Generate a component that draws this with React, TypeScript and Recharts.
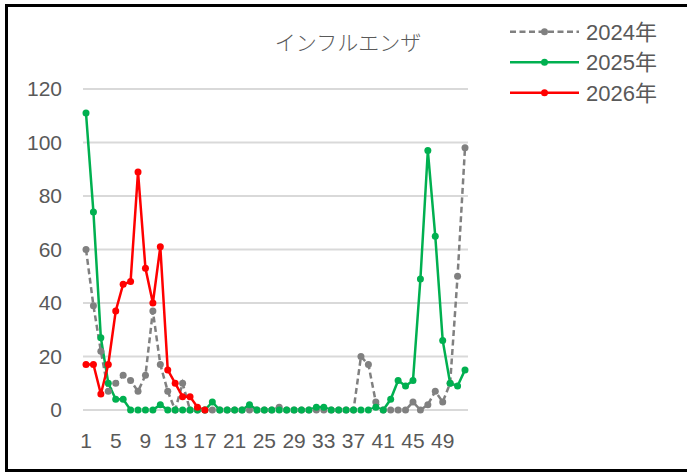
import React from "react";
import { LineChart, Line, XAxis, YAxis, CartesianGrid, Legend } from "recharts";

const weeks: string[] = Array.from({ length: 52 }, (_, i) => String(i + 1));

const values2024: number[] = [
  60, 39, 22, 7, 10, 13, 11, 7, 13, 37,
  17, 7, 0, 10, 0, 0, 0, 0, 0, 0,
  0, 0, 0, 0, 0, 0, 1, 0, 0, 0,
  0, 0, 0, 0, 0, 0, 0, 20, 17, 3,
  0, 0, 0, 0, 3, 0, 2, 7, 3, 10, 50, 98,
];

const values2025: number[] = [
  111, 74, 27, 10, 4, 4, 0, 0, 0, 0,
  2, 0, 0, 0, 0, 0, 0, 3, 0, 0,
  0, 0, 2, 0, 0, 0, 0, 0, 0, 0,
  0, 1, 1, 0, 0, 0, 0, 0, 0, 1,
  0, 4, 11, 9, 11, 49, 97, 65, 26, 10, 9, 15,
];

const values2026: number[] = [17, 17, 6, 17, 37, 47, 48, 89, 53, 40, 61, 15, 10, 5, 5, 1, 0];

const yTicks: number[] = [0, 20, 40, 60, 80, 100, 120];

const seriesNames = ["2024年", "2025年", "2026年"];
const seriesColors = ["#808080", "#00b050", "#ff0000"];

const data = weeks.map((w, i) => ({
  week: w,
  y2024: values2024[i],
  y2025: values2025[i],
  y2026: i < values2026.length ? values2026[i] : null,
}));

const FONT = "'Liberation Sans', 'Noto Sans CJK JP', sans-serif";
const TEXT = "#595959";

const LegendContent = () => (
  <svg width={180} height={110} style={{ display: "block" }}>
    {seriesNames.map((name, i) => {
      const cy = 19.7 + i * 30.5;
      return (
        <g key={name}>
          <line
            x1={5}
            x2={74}
            y1={cy}
            y2={cy}
            stroke={seriesColors[i]}
            strokeWidth={2.5}
            strokeDasharray={i === 0 ? "6 3.5" : undefined}
          />
          <circle cx={39.5} cy={cy} r={3.5} fill={seriesColors[i]} />
          <text
            x={81}
            y={cy}
            dy="0.36em"
            fontSize={22}
            fill={TEXT}
            fontFamily={FONT}
          >
            {name}
          </text>
        </g>
      );
    })}
  </svg>
);

export default function App() {
  return (
    <div style={{ position: "fixed", left: 0, top: 0, width: 687, height: 473, background: "#fff", overflow: "hidden" }}>
      <div
        style={{
          position: "absolute",
          left: 5,
          top: 4,
          width: 720,
          height: 468,
          border: "3px solid #000",
          boxSizing: "border-box",
        }}
      />
      <div
        style={{
          position: "absolute",
          left: 248,
          top: 28,
          width: 200,
          textAlign: "center",
          fontSize: 21,
          lineHeight: "26px",
          color: TEXT,
          fontFamily: "'Noto Sans CJK JP', sans-serif",
          fontWeight: 300,
        }}
      >
        インフルエンザ
      </div>
      <div style={{ position: "absolute", left: 0, top: 0 }}>
        <LineChart
          width={687}
          height={473}
          data={data}
          margin={{ top: 89, right: 219, bottom: 23, left: 0 }}
        >
          <CartesianGrid vertical={false} stroke="#d9d9d9" strokeWidth={2} />
          <XAxis
            dataKey="week"
            interval={3}
            tickLine={false}
            axisLine={{ stroke: "#d9d9d9", strokeWidth: 2 }}
            padding={{ left: 3, right: 3 }}
            tickSize={0}
            tickMargin={23}
            height={40}
            tick={{ fontSize: 21, fill: TEXT, fontFamily: FONT }}
          />
          <YAxis
            domain={[0, 120]}
            ticks={yTicks}
            tickLine={false}
            axisLine={false}
            width={83}
            tickSize={0}
            tickMargin={21}
            tick={{ fontSize: 21, fill: TEXT, fontFamily: FONT }}
          />
          <Legend
            layout="vertical"
            align="center"
            verticalAlign="middle"
            wrapperStyle={{ left: 505, top: 12, width: 180, height: 110 }}
            content={() => <LegendContent />}
          />
          <Line
            type="linear"
            dataKey="y2024"
            name={seriesNames[0]}
            stroke={seriesColors[0]}
            strokeWidth={2.5}
            strokeDasharray="6 3.5"
            dot={{ r: 3.5, fill: seriesColors[0], stroke: seriesColors[0], strokeWidth: 0, strokeDasharray: "" }}
            activeDot={false}
            isAnimationActive={false}
          />
          <Line
            type="linear"
            dataKey="y2025"
            name={seriesNames[1]}
            stroke={seriesColors[1]}
            strokeWidth={2.5}
            dot={{ r: 3.5, fill: seriesColors[1], stroke: seriesColors[1], strokeWidth: 0 }}
            activeDot={false}
            isAnimationActive={false}
          />
          <Line
            type="linear"
            dataKey="y2026"
            name={seriesNames[2]}
            stroke={seriesColors[2]}
            strokeWidth={2.5}
            dot={{ r: 3.5, fill: seriesColors[2], stroke: seriesColors[2], strokeWidth: 0 }}
            activeDot={false}
            isAnimationActive={false}
          />
        </LineChart>
      </div>
    </div>
  );
}
